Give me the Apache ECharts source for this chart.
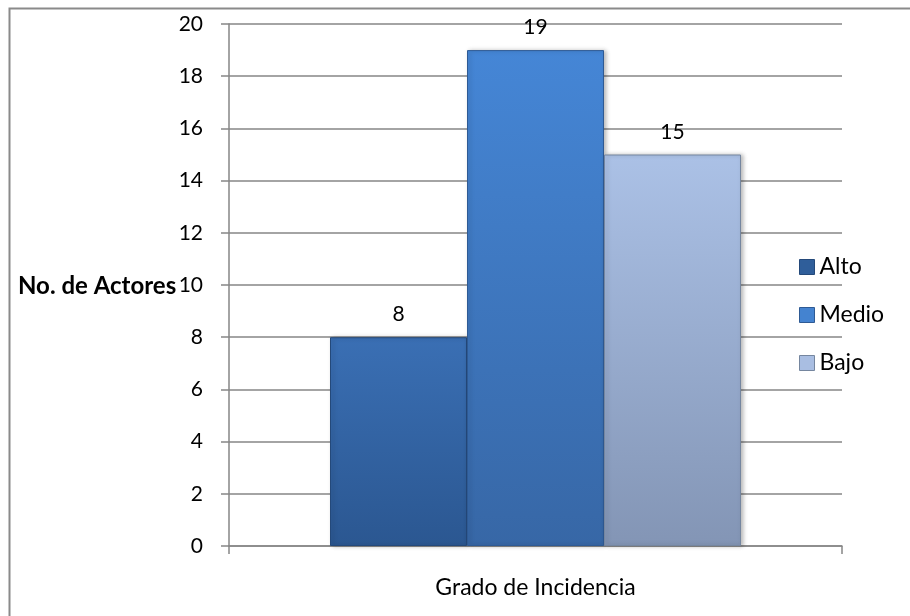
<!DOCTYPE html>
<html><head><meta charset="utf-8">
<script src="https://cdn.jsdelivr.net/npm/echarts@6/dist/echarts.min.js"></script>
<style>html,body{margin:0;padding:0;background:#fff}#c{width:910px;height:616px}</style>
</head><body><div id="c"></div>
<script>
const categories = ["Grado de Incidencia"];
const seriesNames = ["Alto", "Medio", "Bajo"];
const altoValues = [8];
const medioValues = [19];
const bajoValues = [15];
const yTicks = {min: 0, max: 20, interval: 2};
const yAxisTitle = "No. de Actores";

const FONT = 'Lato, "Open Sans", sans-serif';
function grad(top, bottom) {
  return new echarts.graphic.LinearGradient(0, 0, 0, 1, [
    {offset: 0, color: top}, {offset: 1, color: bottom}
  ]);
}
const styles = [
  {fill: grad('#3A6FB4', '#2B5791'), border: '#24497A', icon: '#2F5E9A'},
  {fill: grad('#4586D6', '#3767A6'), border: '#2E5A94', icon: '#4483D0'},
  {fill: grad('#ABC1E6', '#8395B5'), border: '#75869F', icon: '#A9BEE2'}
];
const values = [altoValues, medioValues, bajoValues];

const chart = echarts.init(document.getElementById('c'), null, {renderer: 'canvas'});
chart.setOption({
  backgroundColor: '#fff',
  animation: false,
  grid: {left: 229, right: 68, top: 24, bottom: 70, containLabel: false},
  graphic: [
    {type: 'rect', shape: {x: 9.5, y: 8.5, width: 1000, height: 700},
     style: {fill: 'none', stroke: '#8a8a8a', lineWidth: 2}, silent: true, z: 0},
    {type: 'text', x: 18, y: 286,
     style: {text: yAxisTitle, font: 'bold 24px ' + FONT, fill: '#000', verticalAlign: 'middle', align: 'left'}}
  ],
  legend: {
    orient: 'vertical', left: 794, top: 250,
    itemWidth: 15, itemHeight: 15, itemGap: 24,
    icon: 'rect',
    textStyle: {fontFamily: FONT, fontSize: 23, lineHeight: 24, color: '#000', padding: [0, 0, 0, 0]},
    data: seriesNames.map((n, i) => ({name: n, itemStyle: {color: styles[i].icon, borderColor: styles[i].border, borderWidth: 1}}))
  },
  xAxis: {
    type: 'category', data: categories,
    axisLine: {lineStyle: {color: '#868686', width: 1.5}},
    axisTick: {show: true, length: 8, lineStyle: {color: '#868686', width: 1.5}},
    axisLabel: {fontFamily: FONT, fontSize: 23, color: '#000', margin: 30}
  },
  yAxis: {
    type: 'value', min: yTicks.min, max: yTicks.max, interval: yTicks.interval,
    axisLine: {show: true, lineStyle: {color: '#868686', width: 1.5}},
    axisTick: {show: true, length: 8, lineStyle: {color: '#868686', width: 1.5}},
    splitLine: {lineStyle: {color: '#868686', width: 1.5}},
    axisLabel: {fontFamily: FONT, fontSize: 21, color: '#000', margin: 26}
  },
  series: seriesNames.map((n, i) => ({
    name: n, type: 'bar', data: values[i],
    barWidth: 137, barGap: '0%',
    itemStyle: {color: styles[i].fill, borderColor: styles[i].border, borderWidth: 1,
      shadowColor: 'rgba(0,0,0,0.25)', shadowBlur: 4, shadowOffsetX: 2, shadowOffsetY: 0},
    label: {show: true, position: 'top', distance: 12, fontFamily: FONT, fontSize: 21, color: '#000'}
  }))
});
</script></body></html>
